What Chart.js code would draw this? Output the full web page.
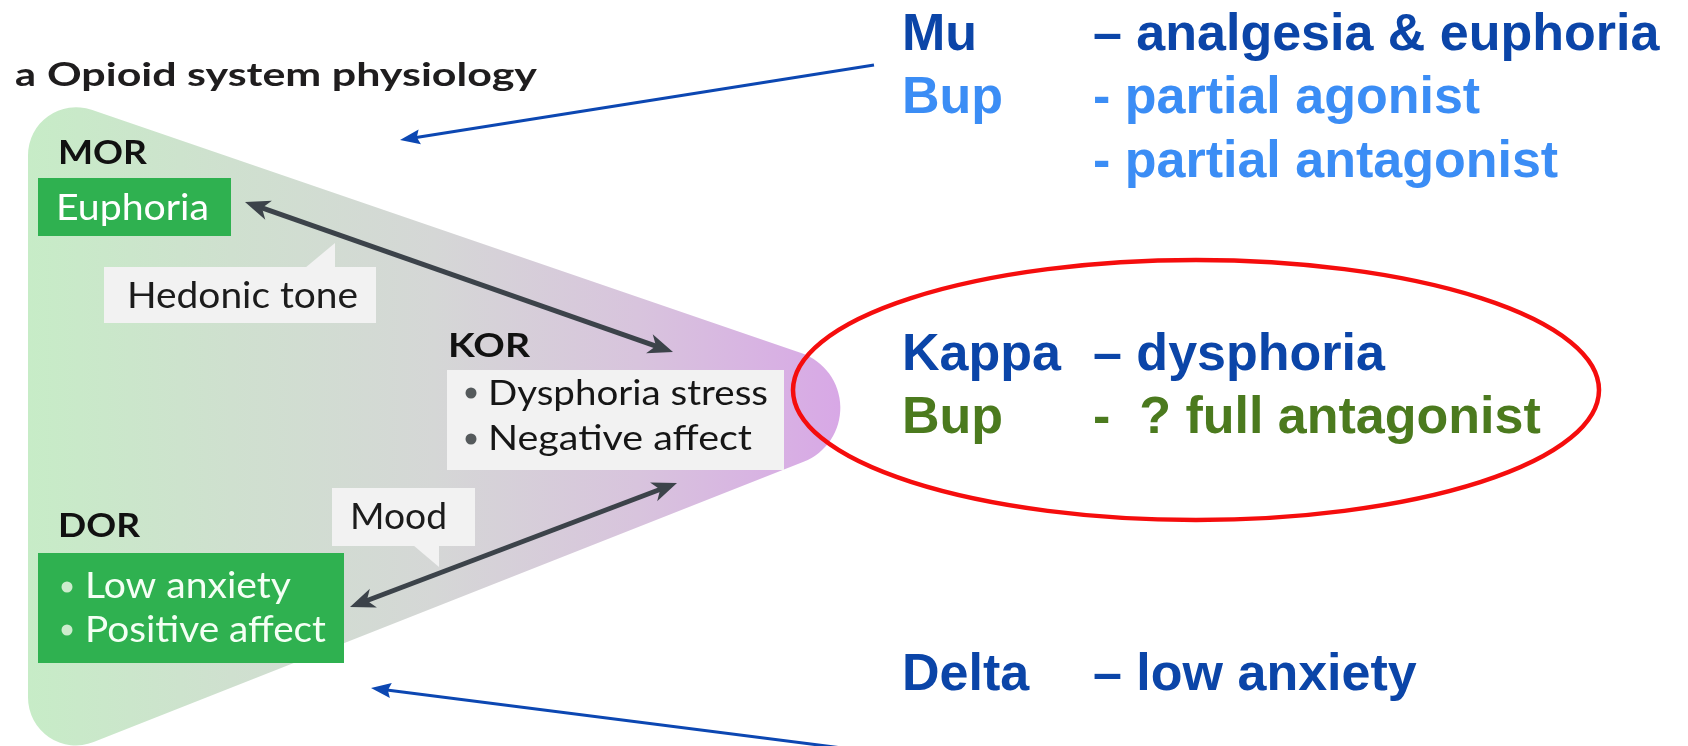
<!DOCTYPE html>
<html><head><meta charset="utf-8">
<script src="https://cdn.jsdelivr.net/npm/chart.js@4/dist/chart.umd.min.js"></script>
<style>html,body{margin:0;padding:0;background:#fff;overflow:hidden}#wrap{width:1688px;height:746px}canvas{display:block}</style>
</head><body><div id="wrap"><canvas id="c" width="1688" height="746"></canvas></div>
<script>
// ---------- DATA (text content) ----------
const panelLetter = 'a';
const panelTitle = 'Opioid system physiology';
const receptors = ['MOR', 'KOR', 'DOR'];
const morEffects = ['Euphoria'];
const korEffects = ['Dysphoria stress', 'Negative affect'];
const dorEffects = ['Low anxiety', 'Positive affect'];
const linkLabels = ['Hedonic tone', 'Mood'];
const subtypeNames = ['Mu', 'Kappa', 'Delta'];
const subtypeActions = ['– analgesia & euphoria', '– dysphoria', '– low anxiety'];
const bupLabel = 'Bup';
const bupMuActions = ['- partial agonist', '- partial antagonist'];
const bupKappaActions = ['-  ? full antagonist'];

// ---------- LAYOUT (positions / styles) ----------
const L = {
  tri: [[28, 88, 48], [950, 404, 58], [28, 768, 48]],
  title: {letter: [15, 86, 21], text: [47, 86, 490], size: 33},
  recLabels: [[58, 164, 89], [448, 357, 82], [58, 537, 82]],
  morBox: [38, 178, 231, 236],
  korBox: [447, 370, 784, 470],
  dorBox: [38, 553, 344, 663],
  morText: [[56, 220, 153]],
  korText: [[488, 405, 280], [488, 450, 264]],
  korBullets: [[471, 393], [471, 439]],
  dorText: [[85, 598, 206], [85, 642, 241]],
  dorBullets: [[67, 587], [67, 630]],
  hedonicBox: [104, 267, 376, 323], hedonicPtr: [[305, 268], [335, 268], [335, 243]],
  hedonicText: [127, 308, 231],
  moodBox: [332, 488, 475, 546], moodPtr: [[413, 545], [439, 545], [439, 567]],
  moodText: [350, 529, 97],
  arrow1: [245, 202, 673, 352],
  arrow2: [350, 607, 677, 483],
  blue1: [874, 65, 400, 140],
  blue2: [850, 749, 371, 688],
  right: {nameX: 902, actX: 1093, rows: [50, 113, 177, 370, 433, 690]},
  ellipse: [1196, 390, 403, 130]
};
const C = {
  green: '#2fb150', callout: '#f2f2f2', dark: '#3c434a', ink: '#1f1d1e',
  blueDark: '#0b45a8', blueLight: '#3b8df5', bupGreen: '#4b7a1e', red: '#f50d0d', arrowBlue: '#0c47b2'
};
const FONT_L = 'Lato, "Open Sans", sans-serif';
const FONT_R = '"Liberation Sans", Arial, sans-serif';

function txt(ctx, s, x, y, size, weight, color, family, w) {
  ctx.save();
  ctx.font = weight + ' ' + size + 'px ' + family;
  ctx.fillStyle = color; ctx.textBaseline = 'alphabetic'; ctx.textAlign = 'left';
  const m = ctx.measureText(s).width;
  ctx.translate(x, y);
  if (w) ctx.scale(w / m, 1);
  ctx.fillText(s, 0, 0);
  ctx.restore();
}
function head(ctx, x1, y1, x2, y2, len, half, notch, color) {
  const a = Math.atan2(y2 - y1, x2 - x1);
  ctx.save(); ctx.translate(x2, y2); ctx.rotate(a);
  ctx.beginPath(); ctx.moveTo(0, 0); ctx.lineTo(-len, -half); ctx.lineTo(-len + notch, 0); ctx.lineTo(-len, half); ctx.closePath();
  ctx.fillStyle = color; ctx.fill(); ctx.restore();
}

const diagram = {
  id: 'diagram',
  afterDraw(chart) {
    const ctx = chart.ctx;
    const X = v => chart.scales.x.getPixelForValue(v);
    const Y = v => chart.scales.y.getPixelForValue(v);
    const P = p => [X(p[0]), Y(p[1])];

    // rounded triangle with gradient
    const pts = L.tri.map(p => [X(p[0]), Y(p[1]), p[2]]);
    ctx.save();
    ctx.beginPath();
    const n = pts.length;
    const m0 = [(pts[n - 1][0] + pts[0][0]) / 2, (pts[n - 1][1] + pts[0][1]) / 2];
    ctx.moveTo(m0[0], m0[1]);
    for (let i = 0; i < n; i++) {
      const cur = pts[i], nxt = pts[(i + 1) % n];
      ctx.arcTo(cur[0], cur[1], nxt[0], nxt[1], cur[2]);
    }
    ctx.closePath();
    const g = ctx.createLinearGradient(X(28), 0, X(840), 0);
    g.addColorStop(0, '#c7ecc7');
    g.addColorStop(0.25, '#cfe0cf');
    g.addColorStop(0.5, '#d5d7d6');
    g.addColorStop(0.75, '#d8c4dd');
    g.addColorStop(1, '#d8a8e6');
    ctx.fillStyle = g; ctx.fill();
    ctx.restore();

    // title
    txt(ctx, panelLetter, X(L.title.letter[0]), Y(L.title.letter[1]), L.title.size, 'bold', C.ink, FONT_L, L.title.letter[2]);
    txt(ctx, panelTitle, X(L.title.text[0]), Y(L.title.text[1]), L.title.size, 'bold', C.ink, FONT_L, L.title.text[2]);

    // receptor labels
    receptors.forEach((r, i) => {
      const p = L.recLabels[i];
      txt(ctx, r, X(p[0]), Y(p[1]), 33, 'bold', '#111', FONT_L, p[2]);
    });

    const rect = (b, col) => { ctx.fillStyle = col; ctx.fillRect(X(b[0]), Y(b[1]), X(b[2]) - X(b[0]), Y(b[3]) - Y(b[1])); };
    const poly = (ps, col) => { ctx.beginPath(); ps.forEach((p, i) => { const q = P(p); i ? ctx.lineTo(q[0], q[1]) : ctx.moveTo(q[0], q[1]); }); ctx.closePath(); ctx.fillStyle = col; ctx.fill(); };
    const dot = (p, r, col) => { ctx.beginPath(); ctx.arc(X(p[0]), Y(p[1]), r, 0, Math.PI * 2); ctx.fillStyle = col; ctx.fill(); };

    // boxes
    rect(L.morBox, C.green);
    morEffects.forEach((s, i) => { const p = L.morText[i]; txt(ctx, s, X(p[0]), Y(p[1]), 36, 'normal', '#ffffff', FONT_L, p[2]); });
    rect(L.korBox, C.callout);
    korEffects.forEach((s, i) => { const p = L.korText[i]; txt(ctx, s, X(p[0]), Y(p[1]), 35, 'normal', '#161616', FONT_L, p[2]); dot(L.korBullets[i], 5.5, '#555a5c'); });
    rect(L.dorBox, C.green);
    dorEffects.forEach((s, i) => { const p = L.dorText[i]; txt(ctx, s, X(p[0]), Y(p[1]), 36, 'normal', '#f4fff4', FONT_L, p[2]); dot(L.dorBullets[i], 5.5, '#cdeccd'); });

    // callouts
    rect(L.hedonicBox, C.callout); poly(L.hedonicPtr, C.callout);
    txt(ctx, linkLabels[0], X(L.hedonicText[0]), Y(L.hedonicText[1]), 36, 'normal', '#1c1c1c', FONT_L, L.hedonicText[2]);
    rect(L.moodBox, C.callout); poly(L.moodPtr, C.callout);
    txt(ctx, linkLabels[1], X(L.moodText[0]), Y(L.moodText[1]), 36, 'normal', '#1c1c1c', FONT_L, L.moodText[2]);

    // double arrows
    [L.arrow1, L.arrow2].forEach(a => {
      const x1 = X(a[0]), y1 = Y(a[1]), x2 = X(a[2]), y2 = Y(a[3]);
      const d = Math.hypot(x2 - x1, y2 - y1), ux = (x2 - x1) / d, uy = (y2 - y1) / d;
      ctx.save(); ctx.strokeStyle = C.dark; ctx.lineWidth = 5; ctx.lineCap = 'butt';
      ctx.beginPath(); ctx.moveTo(x1 + ux * 12, y1 + uy * 12); ctx.lineTo(x2 - ux * 12, y2 - uy * 12); ctx.stroke(); ctx.restore();
      head(ctx, x1, y1, x2, y2, 25, 10, 7, C.dark);
      head(ctx, x2, y2, x1, y1, 25, 10, 7, C.dark);
    });

    // blue pointer arrows
    [L.blue1, L.blue2].forEach(a => {
      const x1 = X(a[0]), y1 = Y(a[1]), x2 = X(a[2]), y2 = Y(a[3]);
      const d = Math.hypot(x2 - x1, y2 - y1), ux = (x2 - x1) / d, uy = (y2 - y1) / d;
      ctx.save(); ctx.strokeStyle = C.arrowBlue; ctx.lineWidth = 3;
      ctx.beginPath(); ctx.moveTo(x1, y1); ctx.lineTo(x2 - ux * 10, y2 - uy * 10); ctx.stroke(); ctx.restore();
      head(ctx, x1, y1, x2, y2, 20, 7.5, 3, C.arrowBlue);
    });

    // right-hand text
    const R = L.right, size = 52, wt = 'bold';
    const rows = [
      [subtypeNames[0], subtypeActions[0], C.blueDark, C.blueDark],
      [bupLabel, bupMuActions[0], C.blueLight, C.blueLight],
      ['', bupMuActions[1], C.blueLight, C.blueLight],
      [subtypeNames[1], subtypeActions[1], C.blueDark, C.blueDark],
      [bupLabel, bupKappaActions[0], C.bupGreen, C.bupGreen],
      [subtypeNames[2], subtypeActions[2], C.blueDark, C.blueDark]
    ];
    rows.forEach((r, i) => {
      const y = Y(R.rows[i]);
      if (r[0]) txt(ctx, r[0], X(R.nameX), y, size, wt, r[2], FONT_R);
      txt(ctx, r[1], X(R.actX), y, size, wt, r[3], FONT_R);
    });

    // red ellipse
    const e = L.ellipse;
    ctx.save(); ctx.strokeStyle = C.red; ctx.lineWidth = 4.5;
    ctx.beginPath(); ctx.ellipse(X(e[0]), Y(e[1]), e[2], e[3], 0, 0, Math.PI * 2); ctx.stroke(); ctx.restore();
  }
};

new Chart(document.getElementById('c').getContext('2d'), {
  type: 'scatter',
  data: { datasets: [] },
  options: {
    responsive: false, animation: false, devicePixelRatio: 1,
    layout: { padding: 0 },
    plugins: { legend: { display: false }, tooltip: { enabled: false }, title: { display: false } },
    scales: {
      x: { type: 'linear', min: 0, max: 1688, display: false },
      y: { type: 'linear', min: 0, max: 746, reverse: true, display: false }
    }
  },
  plugins: [diagram]
});
</script></body></html>
